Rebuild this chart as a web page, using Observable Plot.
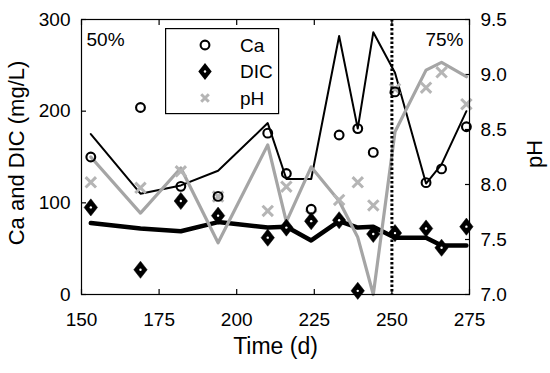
<!DOCTYPE html>
<html>
<head>
<meta charset="utf-8">
<script src="https://cdn.jsdelivr.net/npm/d3@7"></script>
<script src="https://cdn.jsdelivr.net/npm/@observablehq/plot@0.6"></script>
<style>
  body { margin: 0; background: white; }
  #wrap { position: relative; width: 550px; height: 373px; font-family: "Liberation Sans", Arial, sans-serif; }
  #legend { position: absolute; left: 165px; top: 28px; }
</style>
</head>
<body>
<div id="wrap"></div>
<script>
// ---- data ----
const times    = [153, 169, 182, 194, 210, 216, 224, 233, 239, 244, 251, 261, 266, 274];
const caObs    = [150, 204, 118, 107, 176, 132, 93, 174, 181, 155, 221, 122, 137, 183];
const dicObs   = [95, 27, 102, 86, 62, 73, 80, 81, 4, 66, 67, 72, 51, 74];
const pHObs    = [8.02, 7.97, 8.12, 7.89, 7.76, 7.98, 7.72, 7.86, 8.02, 7.81, 8.87, 8.88, 9.02, 8.73];
const caModel  = [175, 110, 119, 135, 187, 126, 126, 282, 181, 286, 242, 121, 142, 200];
const dicModel = [78, 72, 69, 79, 73, 74, 59, 80, 73, 74, 62, 62, 53.5, 53.5];
const pHModel  = [8.25, 7.74, 8.15, 7.47, 8.36, 7.66, 8.16, 7.85, 7.52, 7.0, 8.48, 9.04, 9.11, 8.98];
const xTicks   = [150, 175, 200, 225, 250, 275];
const yTicks   = [0, 100, 200, 300];
const pHTicks  = [7.0, 7.5, 8.0, 8.5, 9.0, 9.5];
const markerLine = [250];
const seriesNames = ["Ca", "DIC", "pH"];
const regionLabels = ["50%", "75%"];

// pH (7.0–9.5) shares the left scale (0–300)
const pHtoY = p => (p - 7) * 120;
const yToPH = y => y / 120 + 7;

const rows = times.map((t, i) => ({
  t, ca: caObs[i], dic: dicObs[i], ph: pHtoY(pHObs[i]),
  caM: caModel[i], dicM: dicModel[i], phM: pHtoY(pHModel[i])
}));

const tallDiamond = {
  draw(ctx, size) {
    const r = Math.sqrt(size / Math.PI);
    const w = r * 0.78;
    ctx.moveTo(0, -r); ctx.lineTo(w, 0); ctx.lineTo(0, r); ctx.lineTo(-w, 0); ctx.closePath();
  }
};

const GRAY_LINE = "#a5a5a5";
const GRAY_X = "#b5b5b5";

const chart = Plot.plot({
  width: 550, height: 373,
  marginLeft: 81, marginRight: 81, marginTop: 19, marginBottom: 79,
  x: {domain: [150, 275]},
  y: {domain: [0, 300]},
  style: {fontFamily: "'Liberation Sans', Arial, sans-serif", color: "black", background: "white", overflow: "visible"},
  marks: [
    Plot.axisX({ticks: xTicks, tickSize: -5, tickPadding: 23, fontSize: 19, label: null, strokeWidth: 1.2}),
    Plot.axisX({anchor: "top", ticks: xTicks, tickSize: -5, tickFormat: () => "", label: null, strokeWidth: 1.2}),
    Plot.axisY({ticks: yTicks, tickSize: -5, tickPadding: 16, fontSize: 19, label: null, strokeWidth: 1.2}),
    Plot.axisY({anchor: "right", ticks: pHTicks.map(pHtoY), tickFormat: d => yToPH(d).toFixed(1), tickSize: -5, tickPadding: 16, fontSize: 19, label: null, strokeWidth: 1.2}),
    Plot.text(["Time (d)"], {frameAnchor: "bottom", dy: 59, fontSize: 23}),
    Plot.text(["Ca and DIC (mg/L)"], {frameAnchor: "left", dx: -65, rotate: -90, fontSize: 22, textAnchor: "middle", dy: -4}),
    Plot.text(["pH"], {frameAnchor: "right", dx: 65, rotate: -90, fontSize: 22, textAnchor: "middle", dy: -3}),
    // model lines
    Plot.lineY(rows, {x: "t", y: "caM", stroke: "black", strokeWidth: 2}),
    Plot.lineY(rows, {x: "t", y: "dicM", stroke: "black", strokeWidth: 4.5}),
    Plot.lineY(rows, {x: "t", y: "phM", stroke: GRAY_LINE, strokeWidth: 3.2}),
    // observations
    Plot.dot(rows, {x: "t", y: "ph", symbol: "times", r: 4.8, stroke: GRAY_X, strokeWidth: 3}),
    Plot.dot(rows, {x: "t", y: "ca", r: 4.4, stroke: "black", strokeWidth: 2.1, fill: "none"}),
    Plot.dot(rows, {x: "t", y: "dic", symbol: tallDiamond, r: 8.6, fill: "black", stroke: "black", strokeWidth: 0.5}),
    Plot.dot(rows, {x: "t", y: "dic", r: 1.2, fill: "white"}),
    // 50% / 75% boundary
    Plot.ruleX(markerLine, {stroke: "black", strokeWidth: 3, strokeDasharray: "2.5,2"}),
    Plot.text([regionLabels[0]], {frameAnchor: "top-left", dx: 5, dy: 13, fontSize: 19, textAnchor: "start"}),
    Plot.text([regionLabels[1]], {frameAnchor: "top-right", dx: -6, dy: 13, fontSize: 19, textAnchor: "end"}),
    Plot.frame({stroke: "black", strokeWidth: 1.2})
  ]
});

const wrap = document.getElementById("wrap");
wrap.appendChild(chart);

// legend box inside plot area
const lw = 113, lh = 85;
const legend = d3.create("svg").attr("id", "legend").attr("width", lw + 2).attr("height", lh + 2);
legend.append("rect").attr("x", 0.6).attr("y", 0.6).attr("width", lw).attr("height", lh)
  .attr("fill", "white").attr("stroke", "black").attr("stroke-width", 1.2);
const rowY = [17, 43.5, 70];
const mx = 40;
// Ca
legend.append("circle").attr("cx", mx).attr("cy", rowY[0]).attr("r", 4.4).attr("fill", "none").attr("stroke", "black").attr("stroke-width", 2.1);
// DIC
legend.append("path").attr("transform", `translate(${mx},${rowY[1]})`)
  .attr("d", d3.symbol(tallDiamond, Math.PI * 8.6 * 8.6)()).attr("fill", "black");
legend.append("circle").attr("cx", mx).attr("cy", rowY[1]).attr("r", 1.2).attr("fill", "white");
// pH
legend.append("path").attr("transform", `translate(${mx},${rowY[2]})`)
  .attr("d", "M-3.8,-3.8L3.8,3.8M-3.8,3.8L3.8,-3.8").attr("stroke", GRAY_X).attr("stroke-width", 3);
seriesNames.forEach((n, i) => {
  legend.append("text").attr("x", 75).attr("y", rowY[i]).attr("dy", "0.35em")
    .attr("font-size", 19).attr("font-family", "'Liberation Sans', Arial, sans-serif").text(n);
});
wrap.appendChild(legend.node());
</script>
</body>
</html>
